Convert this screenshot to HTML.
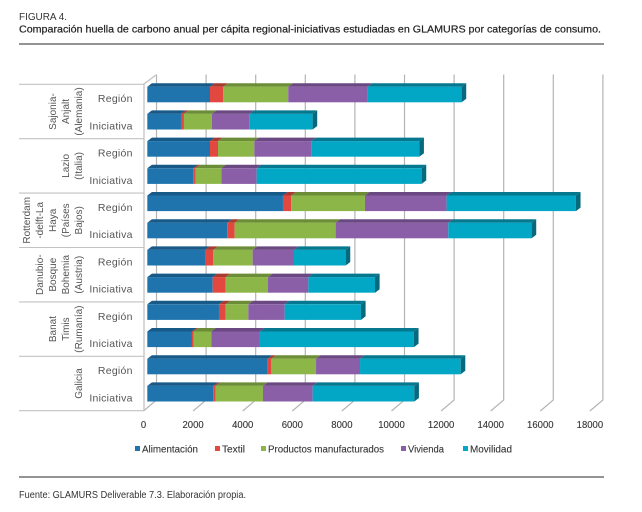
<!DOCTYPE html>
<html lang="es">
<head>
<meta charset="utf-8">
<title>Figura 4</title>
<style>
html,body{margin:0;padding:0;background:#fff;width:642px;height:512px;overflow:hidden}
svg{display:block;filter:blur(0.35px)}
text{font-family:"Liberation Sans",sans-serif}
</style>
</head>
<body>
<svg id="chart" xmlns="http://www.w3.org/2000/svg" width="642" height="512" viewBox="0 0 642 512">
  <text x="19" y="20" font-size="10" fill="#333" textLength="48" lengthAdjust="spacingAndGlyphs">FIGURA 4.</text>
  <text x="19" y="32.5" font-size="10.5" fill="#222" stroke="#222" stroke-width="0.2" textLength="582" lengthAdjust="spacingAndGlyphs">Comparación huella de carbono anual per cápita regional-iniciativas estudiadas en GLAMURS por categorías de consumo.</text>
  <line x1="19" y1="44" x2="604" y2="44" stroke="#2a2a2a" stroke-width="1.1"/>
  <g id="grid"></g>
  <g id="table"></g>
  <g id="bars"></g>
  <g id="ticks"></g>
  <g id="legend"></g>
  <line x1="19" y1="477" x2="604" y2="477" stroke="#2a2a2a" stroke-width="1.1"/>
  <text x="19" y="498" font-size="10" fill="#333" textLength="227" lengthAdjust="spacingAndGlyphs">Fuente: GLAMURS Deliverable 7.3. Elaboración propia.</text>
</svg>
<script>
const barLabels = ['Región','Iniciativa','Región','Iniciativa','Región','Iniciativa','Región','Iniciativa','Región','Iniciativa','Región','Iniciativa'];
const groupLabels = [
  ['Sajonia-','Anjalt','(Alemania)'],
  ['Lazio','(Italia)'],
  ['Rotterdam','-delft-La','Haya','(Países','Bajos)'],
  ['Danubio-','Bosque','Bohemia','(Austria)'],
  ['Banat','Timis','(Rumanía)'],
  ['Galicia']
];
const alimentacion = [2528,1358,2528,1855,5470,3225,2326,2637,2890,1801,4855,2661];
const textil = [536,120,323,94,336,296,336,524,269,67,148,94];
const manufacturados = [2620,1129,1465,1035,2970,4073,1586,1707,914,712,1801,1909];
const vivienda = [3200,1505,2298,1425,3293,4543,1667,1626,1465,1962,1774,2003];
const movilidad = [3790,2554,4355,6653,5215,3360,2083,2688,3078,6210,4059,4100];
const xTicks = [0,2000,4000,6000,8000,10000,12000,14000,16000,18000];
const seriesNames = ['Alimentación','Textil','Productos manufacturados','Vivienda','Movilidad'];

const seriesValues = [alimentacion,textil,manufacturados,vivienda,movilidad];
const seriesKeys = ['alimentacion','textil','manufacturados','vivienda','movilidad'];
const faceColors = ['#1f74ae','#e2483f','#8db648','#8a5fa8','#03a7c6'];
const topColors = ['#175a88','#a93a30','#6c8c38','#6a4982','#05788f'];
const sideColor = '#06697e';
const legendX = [135,215,261,401,463];
const legendW = [56,23,116,36,42];

const NS = 'http://www.w3.org/2000/svg';
const PX_PER_UNIT = 0.0248;
const BAR_H = 15.6;
const BAND = 27.2;
const DX = 4.6;
const DY = 3.5;

function xBack(v){ return 156.5 + v * PX_PER_UNIT; }
function xBar(v){ return 147.3 + v * PX_PER_UNIT; }
function xLabel(v){ return 143.5 + v * PX_PER_UNIT; }
function yBar(i){ return 86.7 + i * BAND; }

function make(tag, attrs, parent){
  const el = document.createElementNS(NS, tag);
  for (const k in attrs) el.setAttribute(k, attrs[k]);
  parent.appendChild(el);
  return el;
}
function points(list){ return list.map(p => p[0].toFixed(2) + ',' + p[1].toFixed(2)).join(' '); }

const grid = document.getElementById('grid');
const table = document.getElementById('table');
const bars = document.getElementById('bars');
const ticks = document.getElementById('ticks');
const legend = document.getElementById('legend');

xTicks.forEach(function(t){
  const line = make('polyline', {points: points([[xBack(t),74.5],[xBack(t),400],[xBack(t)-13,411]]), fill:'none', stroke:'#b4b4b4', 'stroke-width':1.2}, grid);
  
  
  const label = make('text', {x:xLabel(t), y:428, 'font-size':10.5, fill:'#333', stroke:'#333', 'stroke-width':0.12, 'text-anchor':'middle', textLength:String(t).length * 5.3, lengthAdjust:'spacingAndGlyphs'}, ticks);
  
  
  label.textContent = t;
});

const leftAxis = make('polyline', {points: points([[156,75],[144,84],[144,411]]), fill:'none', stroke:'#c2c2c2', 'stroke-width':1.3}, table);



let rowTop = 84.3;
const rowStep = 54.4;
function drawRule(y){
  const rule = make('line', {x1:19, y1:y, x2:144, y2:y, stroke:'#c2c2c2', 'stroke-width':1.1}, table);
  
  
}
groupLabels.forEach(function(lines, g){
  drawRule(rowTop + g * rowStep);
  const centerY = rowTop + g * rowStep + rowStep / 2;
  lines.forEach(function(line, k){
    const colX = 82 - (lines.length - 1 - k) * 13;
    const t = make('text', {x:0, y:0, transform:'translate(' + colX + ',' + centerY + ') rotate(-90)', 'font-size':10, fill:'#555', 'text-anchor':'middle'}, table);
    
    
    t.textContent = line;
  });
});
drawRule(rowTop + groupLabels.length * rowStep);

barLabels.forEach(function(name, i){
  const lab = make('text', {x:132.7, y:yBar(i) + 15.5, 'font-size':10.5, fill:'#555', 'text-anchor':'end', 'letter-spacing':'0.25'}, table);
  
  
  lab.textContent = name;

  const y = yBar(i);
  let total = 0;
  seriesValues.forEach(function(vals, s){
    const a = xBar(total);
    total += vals[i];
    const b = xBar(total);
    const top = make('polygon', {points: points([[a,y],[a+DX,y-DY],[b+DX,y-DY],[b,y]]), fill:topColors[s]}, bars);
    
    
    const face = make('rect', {x:a, y:y, width:Math.max(b-a,0), height:BAR_H, fill:faceColors[s]}, bars);
    
    
  });
  const end = xBar(total);
  const side = make('polygon', {points: points([[end,y],[end+DX,y-DY],[end+DX,y+BAR_H-DY],[end,y+BAR_H]]), fill:sideColor}, bars);
  
  
});

seriesNames.forEach(function(name, s){
  const sq = make('rect', {x:legendX[s], y:446, width:5, height:5, fill:faceColors[s]}, legend);
  
  
  const t = make('text', {x:legendX[s]+7, y:452.5, 'font-size':10.5, fill:'#333', stroke:'#333', 'stroke-width':0.1, textLength:legendW[s], lengthAdjust:'spacingAndGlyphs'}, legend);
  
  
  t.textContent = name;
});
</script>
</body>
</html>
